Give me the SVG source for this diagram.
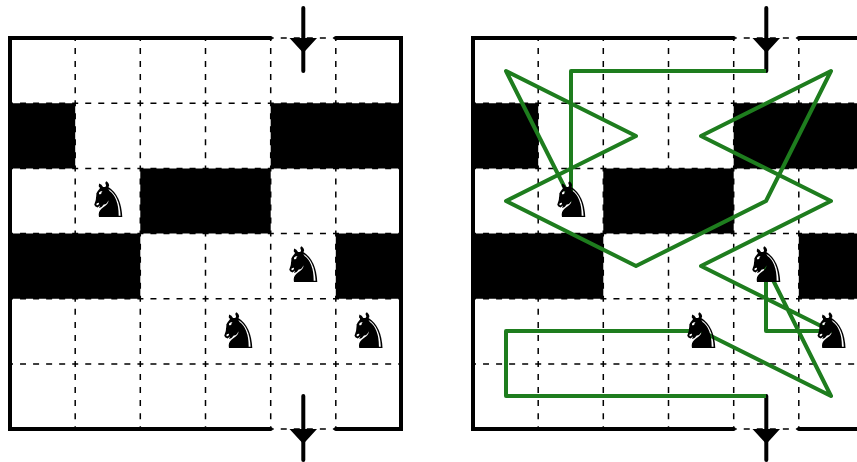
<svg xmlns="http://www.w3.org/2000/svg" xmlns:xlink="http://www.w3.org/1999/xlink" width="857" height="462" viewBox="0 0 857 462">
<style>
.cell{fill:#000}
.grid{stroke:#000;stroke-width:1.5;stroke-dasharray:6 7.04;stroke-dashoffset:3;fill:none}
.wall{stroke:#000;stroke-width:4;fill:none;stroke-linecap:round;stroke-linejoin:miter}
.arrow{stroke:#000;stroke-width:4;fill:none;stroke-linecap:round}
.tip{fill:#000}
.route{stroke:#1e7d1e;stroke-width:4;fill:none;stroke-linejoin:round}
.knight{font-family:"DejaVu Sans",sans-serif;font-size:49px;text-anchor:middle;fill:#000}
</style>
<defs>
<g id="board">
<path class="cell" d="M10 103.2h65.2v65.2H10zM270.7 103.2H401v65.2H270.7zM140.3 168.4h130.4v65.2H140.3zM10 233.6h130.3v65.2H10zM335.8 233.6H401v65.2h-65.2z"/>
<path class="grid" d="M75.2 38V429M140.3 38V429M205.5 38V429M270.7 38V429M335.8 38V429M10 103.2H401M10 168.4H401M10 233.6H401M10 298.8H401M10 364H401M270.7 38H335.8M270.7 429H335.8"/>
<path class="wall" d="M270.7 38H10V429H270.7M335.8 38H401V429H335.8"/>
</g>
<g id="gates">
<path class="arrow" d="M303.3 8V71M303.3 396V460"/>
<path class="tip" d="M289.5 38H317L303.3 53ZM289.5 429H317L303.3 444Z"/>
</g>
</defs>
<g id="left-board"><use xlink:href="#board" href="#board"/></g>
<g id="right-board" transform="translate(463 0)"><use xlink:href="#board" href="#board"/></g>
<g id="connectors">
<use xlink:href="#gates" href="#gates"/>
<use xlink:href="#gates" href="#gates" transform="translate(463 0)"/>
<path class="route" d="M766 71H571V200L506 71L636 136L506 201L636 266L766 201L831 71L701 136L831 201L701 266L831 331H766V266L831 396L701 331H506V396H766"/>
</g>
<g id="knight-l1"><text class="knight" x="108.3" y="217">♞</text></g>
<g id="knight-l2"><text class="knight" x="303.3" y="282">♞</text></g>
<g id="knight-l3"><text class="knight" x="238.3" y="347.5">♞</text></g>
<g id="knight-l4"><text class="knight" x="368.5" y="347.5">♞</text></g>
<g id="knight-r1"><text class="knight" x="571.3" y="217">♞</text></g>
<g id="knight-r2"><text class="knight" x="766.3" y="282">♞</text></g>
<g id="knight-r3"><text class="knight" x="701.3" y="347.5">♞</text></g>
<g id="knight-r4"><text class="knight" x="831.5" y="347.5">♞</text></g>
</svg>
